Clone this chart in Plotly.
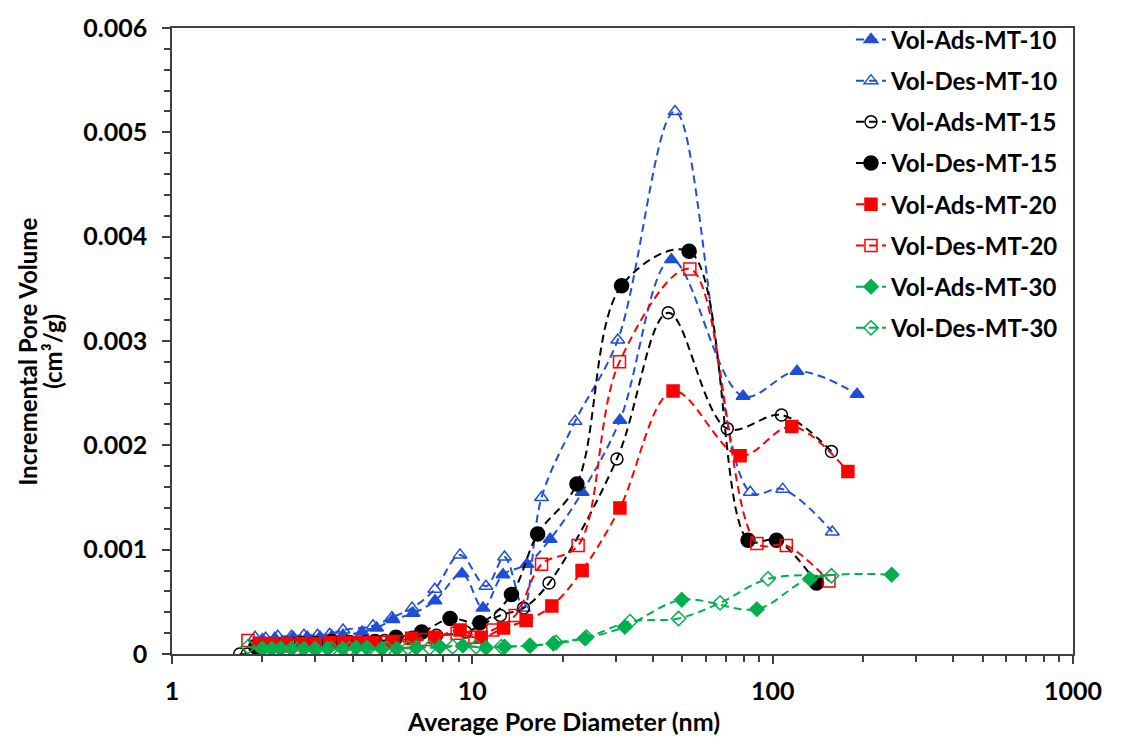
import plotly.graph_objects as go

# ---------------- data ----------------
ads10_x = [2.0, 2.2, 2.53, 2.82, 3.11, 3.41, 3.71, 4.29, 4.8, 5.44, 6.35, 7.51, 9.24, 10.85, 12.65, 15.2, 18.15, 23.2, 31.0, 46.0, 79.7, 120.5, 191]
ads10_y = [0.00014, 0.00015, 0.00016, 0.00016, 0.00016, 0.00017, 0.00018, 0.00021, 0.00025, 0.00033, 0.00039, 0.00051, 0.00077, 0.00044, 0.00076, 0.00086, 0.0011, 0.00155, 0.00224, 0.00378, 0.00247, 0.00271, 0.00249]

des10_x = [1.89, 2.05, 2.25, 2.5, 2.75, 3.05, 3.35, 3.71, 4.67, 5.4, 6.3, 7.5, 9.1, 11.1, 12.8, 14.8, 17.0, 22.0, 30.5, 47.3, 84.2, 108, 158]
des10_y = [0.00016, 0.00015, 0.00017, 0.00017, 0.00018, 0.00018, 0.00019, 0.00023, 0.00027, 0.00035, 0.00044, 0.00062, 0.00095, 0.00065, 0.00093, 0.00044, 0.0015, 0.00223, 0.00301, 0.0052, 0.00155, 0.00158, 0.00117]

ads15_x = [1.68, 1.78, 2.0, 2.25, 2.55, 2.9, 3.3, 3.8, 4.4, 5.1, 6.3, 7.6, 9.5, 12.4, 14.8, 18.0, 30.3, 44.9, 70.6, 107, 157]
ads15_y = [0.0, 0.0, 0.00008, 0.00009, 0.0001, 0.0001, 0.0001, 0.00011, 0.00012, 0.00013, 0.00016, 0.00018, 0.00021, 0.00037, 0.00044, 0.00068, 0.00187, 0.00327, 0.00216, 0.00229, 0.00194]

des15_x = [1.9, 2.1, 2.4, 2.7, 3.0, 3.4, 3.9, 4.74, 5.57, 6.78, 8.43, 10.6, 13.5, 16.5, 22.3, 31.4, 52.7, 82.8, 103, 140]
des15_y = [0.00007, 0.00008, 0.00009, 0.0001, 0.0001, 0.00012, 0.00011, 0.00012, 0.00016, 0.00021, 0.00034, 0.0003, 0.00057, 0.00115, 0.00163, 0.00353, 0.00386, 0.00109, 0.00109, 0.00068]

ads20_x = [1.95, 2.15, 2.4, 2.7, 3.0, 3.35, 3.75, 4.2, 4.66, 5.4, 6.28, 7.5, 9.1, 10.7, 12.7, 15.1, 18.4, 23.2, 31.0, 46.6, 77.9, 115.8, 178]
ads20_y = [0.0001, 0.0001, 0.0001, 0.0001, 0.0001, 0.00011, 0.00011, 0.00011, 0.00011, 0.00012, 0.00015, 0.00016, 0.00023, 0.00016, 0.00025, 0.00032, 0.00046, 0.0008, 0.0014, 0.00252, 0.0019, 0.00218, 0.00175]

des20_x = [1.79, 2.0, 2.3, 2.6, 3.0, 3.4, 3.9, 4.5, 5.2, 6.0, 7.0, 8.9, 10.2, 11.7, 13.9, 17.0, 22.5, 30.9, 53.0, 88.6, 111, 154]
des20_y = [0.00013, 0.00008, 0.00008, 0.00009, 0.00009, 0.0001, 0.0001, 0.0001, 0.00011, 0.00012, 0.00014, 0.0002, 0.00016, 0.00023, 0.00037, 0.00086, 0.00104, 0.0028, 0.00369, 0.00106, 0.00104, 0.0007]

ads30_x = [2.0, 2.15, 2.3, 2.5, 2.75, 3.0, 3.3, 3.7, 4.1, 4.45, 5.0, 5.6, 6.5, 7.8, 9.3, 11.1, 12.8, 15.6, 18.6, 23.7, 32.2, 49.8, 88.6, 133, 249]
ads30_y = [0.00005, 0.00005, 0.00005, 0.00005, 0.00005, 0.00005, 0.00005, 0.00005, 0.00006, 0.00006, 0.00005, 0.00005, 0.00006, 0.00007, 0.00008, 0.00006, 0.00007, 0.00008, 0.0001, 0.00015, 0.00026, 0.00052, 0.00043, 0.00072, 0.00076]

des30_x = [1.79, 2.0, 2.3, 2.6, 3.0, 3.4, 3.9, 4.5, 5.2, 6.1, 7.2, 8.6, 10.3, 12.5, 15.5, 19.0, 24.0, 33.5, 48.6, 66.8, 96.5, 157]
des30_y = [0.00007, 0.00005, 0.00005, 0.00004, 0.00004, 0.00005, 0.00005, 0.00005, 0.00005, 0.00006, 0.00006, 0.00007, 0.00007, 0.00007, 0.00008, 0.00011, 0.00016, 0.00031, 0.00034, 0.00049, 0.00072, 0.00075]

series_names = ["Vol-Ads-MT-10", "Vol-Des-MT-10", "Vol-Ads-MT-15", "Vol-Des-MT-15",
                "Vol-Ads-MT-20", "Vol-Des-MT-20", "Vol-Ads-MT-30", "Vol-Des-MT-30"]

y_tickvals = [0, 0.001, 0.002, 0.003, 0.004, 0.005, 0.006]
y_ticktext = ["0", "0.001", "0.002", "0.003", "0.004", "0.005", "0.006"]
x_tickvals = [1, 10, 100, 1000]
x_ticktext = ["1", "10", "100", "1000"]

x_title = "Average Pore Diameter (nm)"
y_title_1 = "Incremental Pore Volume"
y_title_2 = "(cm³/g)"

# ---------------- styles ----------------
BLUE = "#1F4FD6"
RED = "#FF0000"
GREEN = "#00B050"
BLACK = "#000000"
AXC = "#404040"

styles = [
    (BLUE, "triangle-up", 12),
    (BLUE, "triangle-up-open", 12),
    (BLACK, "circle-open", 12),
    (BLACK, "circle", 14),
    (RED, "square", 12),
    (RED, "square-open", 12),
    (GREEN, "diamond", 11),
    (GREEN, "diamond-open", 11),
]
data = [(ads10_x, ads10_y), (des10_x, des10_y), (ads15_x, ads15_y), (des15_x, des15_y),
        (ads20_x, ads20_y), (des20_x, des20_y), (ads30_x, ads30_y), (des30_x, des30_y)]

FONT = "Lato"

fig = go.Figure()
for i, (name, (xs, ys), (col, sym, sz)) in enumerate(zip(series_names, data, styles)):
    fig.add_trace(go.Scatter(
        x=xs, y=ys, name=name, mode="lines+markers",
        legendgroup=f"g{i}",
        line=dict(color=col, width=2, dash="8px,5px", shape="spline", smoothing=1.0),
        marker=dict(symbol=sym, size=sz, color=col, line=dict(color=col, width=1.5)),
    ))

fig.update_layout(
    width=1127, height=738,
    margin=dict(l=172, r=54, t=18, b=84),
    paper_bgcolor="white", plot_bgcolor="white",
    font=dict(family=FONT, size=20, color="black"),
    showlegend=True,
    legend=dict(
        x=0.99, xanchor="right", y=1.017, yanchor="top",
        font=dict(family=FONT, size=24, color="black", weight="bold"),
        bgcolor="rgba(0,0,0,0)", traceorder="grouped", tracegroupgap=7,
        itemwidth=30,
    ),
    xaxis=dict(
        type="log", range=[0, 3],
        tickvals=x_tickvals, ticktext=x_ticktext,
        ticks="outside", ticklen=8, tickwidth=1.5, tickcolor=AXC,
        showline=True, linecolor=AXC, linewidth=1.5, mirror=True,
        showgrid=False, zeroline=False,
        tickfont=dict(family=FONT, size=25, weight="bold"),
        ticklabelstandoff=6,
        minor=dict(ticks="outside", ticklen=6, tickwidth=1.5, tickcolor=AXC,
                   tickvals=[a * b for b in (1, 10, 100) for a in range(2, 10)], showgrid=False),
    ),
    yaxis=dict(
        range=[0, 0.006],
        tickvals=y_tickvals, ticktext=y_ticktext,
        ticks="outside", ticklen=8, tickwidth=1.5, tickcolor=AXC,
        showline=True, linecolor=AXC, linewidth=1.5, mirror=True,
        showgrid=False, zeroline=False,
        tickfont=dict(family=FONT, size=25, weight="bold"),
        ticklabelstandoff=10,
        minor=dict(ticks="outside", ticklen=6, tickwidth=1.5, tickcolor=AXC, dtick=0.0002, showgrid=False),
    ),
    annotations=[
        dict(text=x_title, xref="paper", yref="paper", x=(563 - 172) / 901, y=(654 - 722) / 636,
             xanchor="center", yanchor="middle", showarrow=False,
             font=dict(family=FONT, size=25, weight="bold")),
        dict(text=y_title_1, xref="paper", yref="paper", x=(28 - 172) / 901, y=(654 - 347) / 636,
             xanchor="center", yanchor="middle", showarrow=False, textangle=-90,
             font=dict(family=FONT, size=24, weight="bold")),
        dict(text=y_title_2, xref="paper", yref="paper", x=(53 - 172) / 901, y=(654 - 347) / 636,
             xanchor="center", yanchor="middle", showarrow=False, textangle=-90,
             font=dict(family=FONT, size=24, weight="bold")),
    ],
)

fig.write_html("out.html")
